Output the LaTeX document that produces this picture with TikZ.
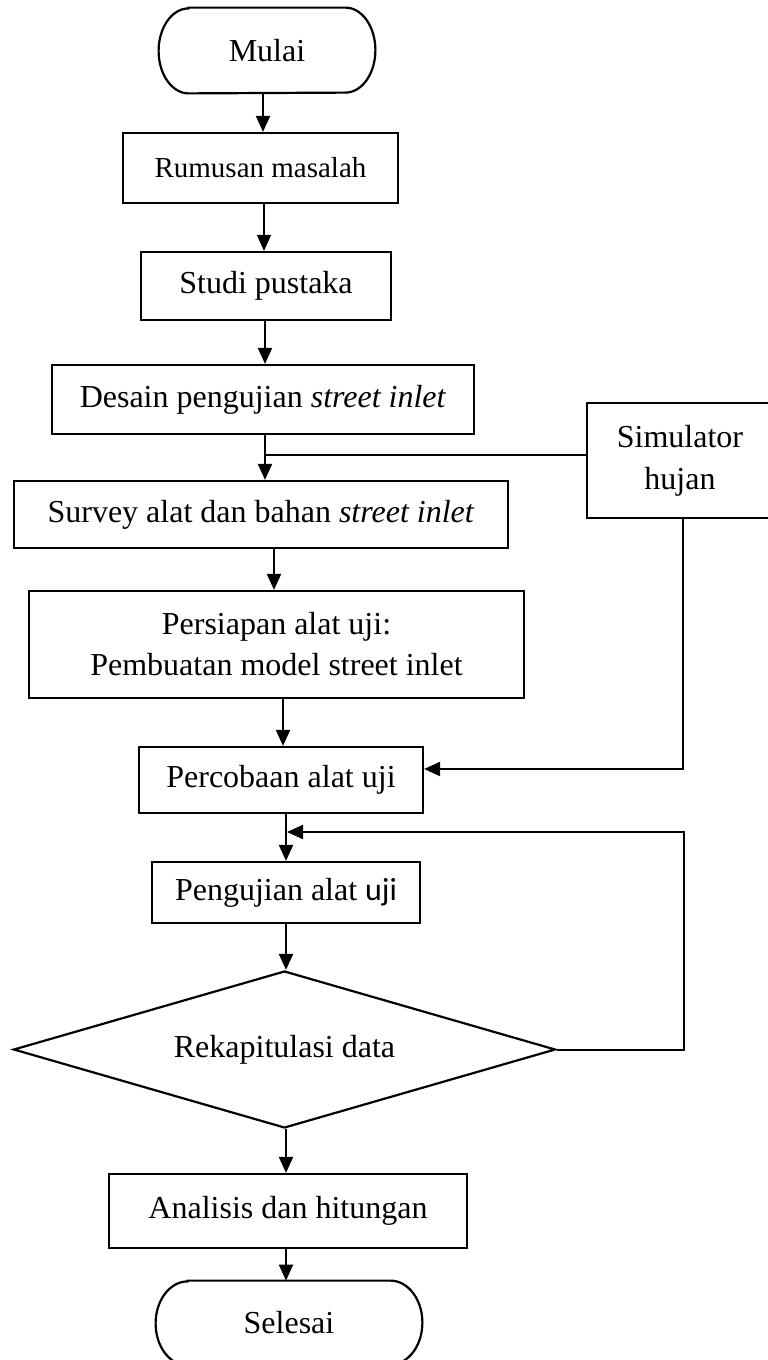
\documentclass[tikz,border=0pt]{standalone}
\usepackage{fontspec}
\setmainfont{Liberation Serif}
\newfontfamily\calibri{Carlito}
\usetikzlibrary{arrows.meta,shapes.geometric}
\begin{document}
\begin{tikzpicture}[x=0.5pt,y=-0.5pt,
  box/.style={draw,line width=1.1pt,rectangle,inner sep=0pt,align=center,font=\fontsize{16}{20.5}\selectfont},
  termbox/.style={rectangle,inner sep=0pt,font=\fontsize{16}{20}\selectfont},
  termline/.style={line width=1.1pt},
  decision/.style={draw,line width=1.1pt,diamond,aspect=3.45,inner sep=0pt,font=\fontsize{16}{20}\selectfont},
  arr/.style={line width=1pt,-{Triangle[length=8pt,width=7pt]}},
  conn/.style={line width=0.9pt}]
\fill[white] (0,0) rectangle (767,1360);
\useasboundingbox (0,0) rectangle (767,1360);

% start
\node[termbox,minimum width=108pt,minimum height=42.5pt] (mulai) at (267,50.5) {Mulai};
\draw[termline] ([xshift=15pt]mulai.north west) -- ([xshift=-15pt]mulai.north east)
  arc[start angle=90,end angle=-90,x radius=15pt,y radius=21.25pt]
  -- ([xshift=15pt]mulai.south west)
  arc[start angle=270,end angle=90,x radius=15pt,y radius=21.25pt] -- cycle;

\node[box,minimum width=137.5pt,minimum height=35pt,font=\fontsize{14.5}{18}\selectfont] (rum) at (260.5,168) {Rumusan masalah};
\node[box,minimum width=125pt,minimum height=34pt] (studi) at (266,286) {Studi pustaka};
\node[box,minimum width=211pt,minimum height=34.5pt] (desain) at (263,399.5) {Desain pengujian \textit{street inlet}};
\node[box,minimum width=247pt,minimum height=33.5pt] (survey) at (261,514.5) {Survey alat dan bahan \textit{street inlet}};
\node[box,minimum width=247.5pt,minimum height=53.5pt] (persiapan) at (276.5,644.5) {Persiapan alat uji:\\Pembuatan model street inlet};
\node[box,minimum width=93pt,minimum height=57.5pt,font=\fontsize{16}{21}\selectfont] (sim) at (680,460.5) {Simulator\\hujan};
\node[box,minimum width=142pt,minimum height=33pt] (perc) at (281,780) {Percobaan alat uji};
\node[box,minimum width=134pt,minimum height=30.5pt] (peng) at (286,892.5) {Pengujian alat {\calibri uji}};
\node[decision,minimum width=271pt,minimum height=78.5pt] (rek) at (284.5,1049.5) {Rekapitulasi data};
\node[box,minimum width=179pt,minimum height=37pt] (anal) at (288,1211) {Analisis dan hitungan};

% end
\node[termbox,minimum width=133pt,minimum height=42pt] (sel) at (289,1323) {Selesai};
\draw[termline] ([xshift=16pt]sel.north west) -- ([xshift=-16pt]sel.north east)
  arc[start angle=90,end angle=-90,x radius=16pt,y radius=21pt]
  -- ([xshift=16pt]sel.south west)
  arc[start angle=270,end angle=90,x radius=16pt,y radius=21pt] -- cycle;

% connectors
\draw[arr] ([xshift=-2pt]mulai.south) -- ([xshift=1.25pt]rum.north);
\draw[arr] ([xshift=1.75pt]rum.south) -- ([xshift=-1pt]studi.north);
\draw[arr] ([xshift=-0.5pt]studi.south) -- ([xshift=1pt]desain.north);
\draw[arr] ([xshift=1pt]desain.south) -- ([xshift=2pt]survey.north);
\coordinate (j) at (265,455);
\draw[conn] (j) -- (j -| sim.west);
\draw[arr] ([xshift=6.5pt]survey.south) -- ([xshift=-1.25pt]persiapan.north);
\draw[arr] ([xshift=3.25pt]persiapan.south) -- ([xshift=1pt]perc.north);
\draw[arr] ([xshift=1.5pt]sim.south) |- ([yshift=5.5pt]perc.east);
\draw[arr] ([xshift=2.5pt]perc.south) -- (peng.north);
\coordinate (fb) at (684,832);
\coordinate (fbend) at (287,832);
\draw[arr] (rek.east) -| (fb) -- (fbend);
\draw[arr] (peng.south) -- ([xshift=0.75pt]rek.north);
\draw[arr] ([xshift=0.75pt]rek.south) -- ([xshift=-1pt]anal.north);
\draw[arr] ([xshift=-1pt]anal.south) -- ([xshift=-1.5pt]sel.north);
\end{tikzpicture}
\end{document}
